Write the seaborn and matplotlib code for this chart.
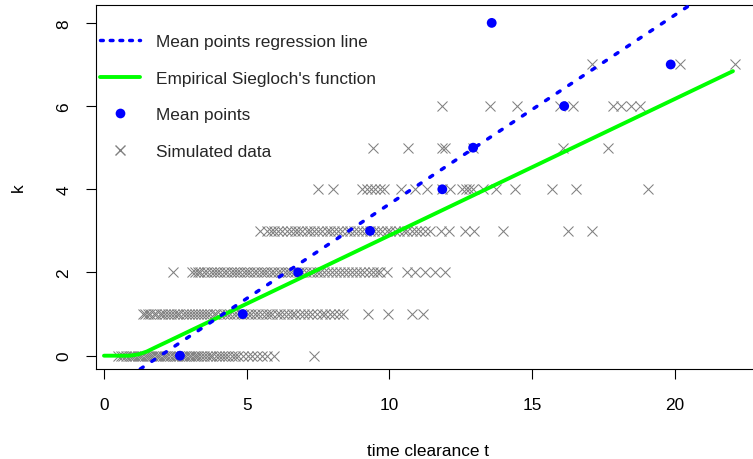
import matplotlib
matplotlib.use("Agg")
import matplotlib.pyplot as plt
from matplotlib.lines import Line2D
import numpy as np
import pandas as pd
import seaborn as sns

# ---------------- data ----------------
sim_t_k0 = [0.49, 0.58, 0.68, 0.77, 0.86, 0.93, 1.02, 1.1, 1.18, 1.27, 1.33, 1.42, 1.5, 1.58,
            1.66, 1.73, 1.81, 1.9, 1.97, 2.05, 2.14, 2.22, 2.31, 2.4, 2.47, 2.55, 2.63, 2.72,
            2.8, 2.88, 2.97, 3.06, 3.15, 3.22, 3.3, 3.41, 3.52, 3.6, 3.71, 3.8, 3.92, 4.03,
            4.12, 4.24, 4.35, 4.47, 4.58, 4.7, 4.88, 5.05, 5.2, 5.36, 5.55, 5.72, 5.95, 7.35]
sim_t_k1 = [1.35, 1.45, 1.55, 1.62, 1.74, 1.83, 1.95, 2.04, 2.12, 2.25, 2.33, 2.46, 2.55, 2.63,
            2.78, 2.86, 2.97, 3.08, 3.2, 3.28, 3.4, 3.51, 3.62, 3.73, 3.85, 3.94, 4.07, 4.2,
            4.31, 4.43, 4.55, 4.66, 4.79, 4.92, 5.03, 5.15, 5.28, 5.4, 5.52, 5.66, 5.78, 5.9,
            6.05, 6.18, 6.3, 6.44, 6.57, 6.7, 6.86, 7.0, 7.13, 7.3, 7.46, 7.62, 7.75, 7.9,
            8.05, 8.22, 8.37, 9.25, 9.95, 10.78, 11.18]
sim_t_k2 = [2.43, 3.07, 3.19, 3.3, 3.38, 3.52, 3.61, 3.74, 3.86, 3.95, 4.08, 4.2, 4.3, 4.44,
            4.55, 4.66, 4.78, 4.9, 5.02, 5.13, 5.25, 5.36, 5.5, 5.6, 5.72, 5.84, 5.96, 6.08,
            6.2, 6.33, 6.45, 6.56, 6.7, 6.83, 6.95, 7.08, 7.2, 7.33, 7.45, 7.58, 7.72, 7.85,
            7.98, 8.12, 8.25, 8.4, 8.55, 8.68, 8.83, 8.98, 9.12, 9.27, 9.42, 9.55, 9.67,
            9.9, 10.6, 10.9, 11.25, 11.6, 11.95]
sim_t_k3 = [5.46, 5.72, 5.85, 5.97, 6.1, 6.23, 6.4, 6.55, 6.68, 6.8, 6.95, 7.1, 7.22, 7.37,
            7.5, 7.65, 7.8, 7.93, 8.07, 8.2, 8.35, 8.5, 8.62, 8.77, 8.9, 9.05, 9.18, 9.33,
            9.47, 9.6, 9.75, 9.9, 10.03, 10.18, 10.35, 10.5, 10.62, 10.78, 10.93, 11.08,
            11.25, 11.42, 11.8, 12.1, 12.65, 12.95, 13.98, 16.25, 17.1]
sim_t_k4 = [7.51, 8.03, 9.05, 9.2, 9.35, 9.5, 9.65, 9.82, 10.42, 10.9, 11.3, 11.85, 12.12,
            12.55, 12.68, 12.8, 12.92, 13.28, 13.72, 14.4, 15.7, 16.55, 19.04]
sim_t_k5 = [9.43, 10.66, 11.85, 11.95, 12.93, 16.09, 17.66]
sim_t_k6 = [11.85, 13.52, 14.45, 15.97, 16.44, 17.84, 18.1, 18.45, 18.77]
sim_t_k7 = [17.11, 20.17, 22.1]

mean_t = [2.66, 4.86, 6.8, 9.32, 11.85, 12.93, 16.12, 19.85, 13.58]
mean_k = [0, 1, 2, 3, 4, 5, 6, 7, 8]

siegloch_t = [0.0, 0.9, 1.2, 1.5, 1.8, 2.2, 22.03]
siegloch_k = [0.0, 0.0, 0.03, 0.1, 0.2, 0.33, 6.84]

reg_intercept = -0.897
reg_slope = 0.4544

x_ticks = [0, 5, 10, 15, 20]
y_ticks = [0, 2, 4, 6, 8]
legend_labels = ["Mean points regression line", "Empirical Siegloch's function",
                 "Mean points", "Simulated data"]

rows = [sim_t_k0, sim_t_k1, sim_t_k2, sim_t_k3, sim_t_k4, sim_t_k5, sim_t_k6, sim_t_k7]
sim_df = pd.DataFrame({
    "t": [v for r in rows for v in r],
    "k": [i for i, r in enumerate(rows) for _ in r],
})
mean_df = pd.DataFrame({"t": mean_t, "k": mean_k})
sieg_df = pd.DataFrame({"t": siegloch_t, "k": siegloch_k})

# ---------------- styling ----------------
FS = 12.4
sns.set_theme(style="ticks")
plt.rcParams["font.family"] = ["Liberation Sans", "DejaVu Sans"]
plt.rcParams["font.size"] = FS

GRAY = "#808080"
BLUE = "#0000FF"
GREEN = "#00FF00"

fig = plt.figure(figsize=(7.53, 4.60), dpi=100)
ax = fig.add_axes([96 / 753, (460 - 370) / 460, (759.5 - 96) / 753, 364 / 460])

sns.scatterplot(data=sim_df, x="t", y="k", marker="x", color=GRAY, s=52,
                linewidth=0.75, ax=ax, zorder=2, legend=False)
sns.scatterplot(data=mean_df, x="t", y="k", marker="o", color=BLUE, s=50,
                edgecolor="none", ax=ax, zorder=3, legend=False)
sns.lineplot(data=sieg_df, x="t", y="k", color=GREEN, linewidth=2.8,
             sort=False, estimator=None, ax=ax, zorder=4)
ax.axline((0, reg_intercept), slope=reg_slope, color=BLUE, linewidth=2.5,
          linestyle=(0, (1.0, 3.0)), dash_capstyle="round", zorder=5)

ax.set_xlim(-0.28, 22.96)
ax.set_ylim(-0.32, 8.43)
ax.set_xticks(x_ticks)
ax.set_yticks(y_ticks)
ax.set_xticklabels([str(v) for v in x_ticks])
ax.set_yticklabels([str(v) for v in y_ticks])

for sp in ax.spines.values():
    sp.set_visible(True)
    sp.set_color("black")
    sp.set_linewidth(0.8)

ax.tick_params(axis="both", direction="out", length=7.5, width=0.8, color="black",
               labelsize=FS, labelcolor="black")
ax.tick_params(axis="x", pad=12.5)
for lab in ax.get_yticklabels():
    lab.set_rotation(90)
    lab.set_va("center")
    lab.set_ha("center")
ax.tick_params(axis="y", pad=15.5)

ax.set_xlabel("time clearance t", fontsize=FS, color="black")
ax.set_ylabel("k", fontsize=FS, color="black")
ax.xaxis.set_label_coords(0.5, -(452 - 370) / 364)
ax.xaxis.label.set_va("center")
ax.yaxis.set_label_coords(-(96 - 18) / 663.5, 0.5)
ax.yaxis.label.set_va("center")
ax.grid(False)

handles = [
    Line2D([], [], color=BLUE, linewidth=2.5, linestyle=(0, (0.8, 2.0)),
           dash_capstyle="round"),
    Line2D([], [], color=GREEN, linewidth=2.8),
    Line2D([], [], color=BLUE, marker="o", linestyle="none", markersize=7,
           markeredgewidth=0),
    Line2D([], [], color=GRAY, marker="x", linestyle="none", markersize=7.2,
           markeredgewidth=1.0),
]
ax.legend(handles, legend_labels, loc="upper left",
          bbox_to_anchor=((100 - 96) / 663.5, 1 - (35 - 6) / 364),
          frameon=False, borderpad=0, borderaxespad=0, fontsize=FS,
          handlelength=2.3, handletextpad=0.95, labelspacing=1.25)

fig.savefig("out.png", dpi=100)
